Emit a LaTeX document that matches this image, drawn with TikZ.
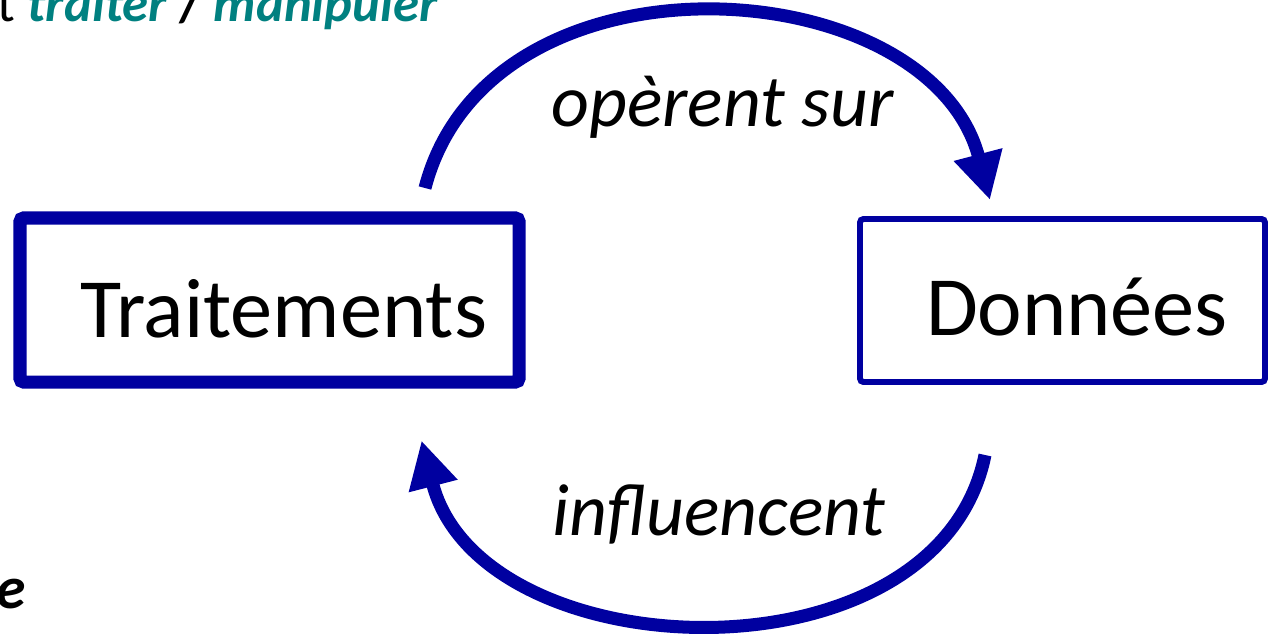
\documentclass[tikz,border=0pt]{standalone}
\usepackage{xcolor}
\usepackage{fontspec}
\setmainfont{Carlito}
\usepackage{tikz}
\usetikzlibrary{arrows.meta}
\definecolor{dblue}{RGB}{0,0,160}
\definecolor{dteal}{RGB}{0,128,128}

\begin{document}
\begin{tikzpicture}
\tikzstyle{box} = [draw=dblue,rounded corners=2pt,align=right,font=\fontsize{48}{52}\selectfont,text depth=0pt];
\tikzstyle{flow} = [draw=dblue,line width=7.4pt,-{Triangle[length=0.94cm,width=0.94cm]}];
\tikzstyle{lbl} = [font=\fontsize{42}{46}\selectfont\itshape];
\useasboundingbox (0,0) rectangle (25.48,12.66);
\clip (0,0) rectangle (25.48,12.66);

\node [box,line width=7.4pt,minimum height=3.28cm,text width=8.7cm,text height=1.5cm,inner xsep=0.64cm] (trt) at (5.39,6.66) {Traitements};
\node [box,line width=3.4pt,minimum height=3.26cm,text width=6.62cm,text height=1.4cm,inner xsep=0.74cm] (don) at (21.25,6.65) {Données};

% arcs between the two boxes
\coordinate (t1) at (8.5,8.9);
\coordinate (t2) at (19.8,8.66);
\coordinate (b1) at (19.7,3.56);
\coordinate (b2) at (8.43,3.85);
\draw [flow] (t1) .. controls (9.78,13.85) and (18.58,13.30) .. (t2);
\draw [flow] (b1) .. controls (18.75,-1.11) and (9.62,-0.78) .. (b2);

\node [lbl,anchor=base] (op) at (14.45,10.12) {opèrent sur};
\node [lbl,anchor=base] (inf) at (14.38,1.95) {influencent};

% cut text at the edges
\node [anchor=base west,inner sep=0pt,font=\fontsize{30}{34}\selectfont] (top) at (-0.05,12.22) {t {\color{dteal}\bfseries\itshape traiter} {\bfseries /} {\color{dteal}\bfseries\itshape manipuler}};
\node [anchor=base east,inner sep=0pt,font=\fontsize{34}{38}\selectfont\bfseries\itshape] (bot) at (0.52,0.5) {e};
\end{tikzpicture}
\end{document}
